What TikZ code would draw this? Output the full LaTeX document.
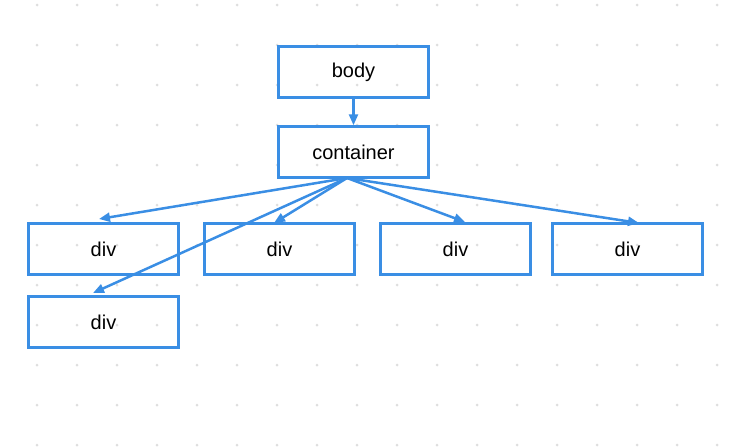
\documentclass[tikz,border=0pt]{standalone}
\usepackage{fontspec}
\setmainfont{Liberation Sans}
\usetikzlibrary{arrows.meta}
\definecolor{edgeblue}{RGB}{58,142,228}
\definecolor{dotgray}{RGB}{222,222,222}
\begin{document}
\begin{tikzpicture}[x=1pt,y=-1pt,
  box/.style={draw=edgeblue,line width=2.5pt,minimum width=150pt,minimum height=51pt,inner sep=0pt,font=\fontsize{20}{24}\selectfont},
  conn/.style={draw=edgeblue,line width=2.5pt,-{Triangle[length=11pt,width=9pt]}}]
\useasboundingbox (0,0) rectangle (733,447);
\foreach \i in {0,...,18}{\foreach \j in {0,...,11}{\fill[dotgray] (37+40*\i,5+40*\j) circle (1.5pt);}}
\node[box] (body) at (353.5,72) {body};
\node[box] (container) at (353.5,152) {container};
\node[box] (d1) at (103.5,249) {div};
\node[box] (d2) at (279.5,249) {div};
\node[box] (d3) at (455.5,249) {div};
\node[box] (d4) at (627.5,249) {div};
\node[box] (d5) at (103.5,322) {div};
\coordinate (src) at (347,178);
\coordinate (t1) at (99,219);
\coordinate (t2) at (274,223);
\coordinate (t3) at (465,222);
\coordinate (t4) at (639,223);
\coordinate (t5) at (93,293);
\draw[conn] (body.south) -- (container.north);
\draw[conn] (src) -- (t1);
\draw[conn] (src) -- (t2);
\draw[conn] (src) -- (t3);
\draw[conn] (src) -- (t4);
\draw[conn] (src) -- (t5);
\end{tikzpicture}
\end{document}
